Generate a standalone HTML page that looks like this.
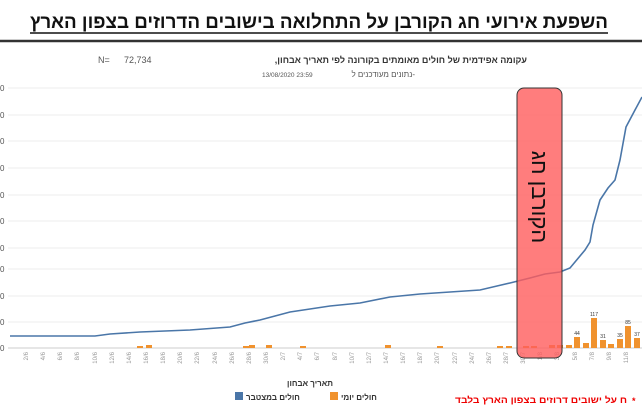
<!DOCTYPE html>
<html><head><meta charset="utf-8"><style>
body{margin:0;width:642px;height:410px;overflow:hidden;background:#fff;font-family:"Liberation Sans",sans-serif;}
</style></head><body>
<svg width="642" height="410" viewBox="0 0 642 410" xmlns="http://www.w3.org/2000/svg" font-family="Liberation Sans, sans-serif">
<rect width="642" height="410" fill="#fff"/>
<text x="30" y="28" font-size="19" font-weight="bold" fill="#111" textLength="578" lengthAdjust="spacingAndGlyphs">השפעת אירועי חג הקורבן על התחלואה בישובים הדרוזים בצפון הארץ</text>
<line x1="30" y1="33" x2="608" y2="33" stroke="#111" stroke-width="1.5"/>
<line x1="0" y1="41" x2="642" y2="41" stroke="#333" stroke-width="2.5"/>
<text x="98" y="63" font-size="9" fill="#555">N=</text>
<text x="124" y="63" font-size="9" fill="#555">72,734</text>
<text x="527" y="63" text-anchor="end" font-size="9" font-weight="bold" fill="#333">,עקומה אפידמית של חולים מאומתים בקורונה לפי תאריך אבחון</text>
<text x="262" y="77" font-size="6.5" fill="#555">13/08/2020 23:59</text>
<text x="415" y="77" text-anchor="end" font-size="8" fill="#555">נתונים מעודכנים ל-</text>
<g stroke="#eee" stroke-width="1">
<line x1="8" y1="88" x2="642" y2="88"/><line x1="8" y1="115" x2="642" y2="115"/><line x1="8" y1="141" x2="642" y2="141"/><line x1="8" y1="168" x2="642" y2="168"/><line x1="8" y1="195" x2="642" y2="195"/><line x1="8" y1="221" x2="642" y2="221"/><line x1="8" y1="248" x2="642" y2="248"/><line x1="8" y1="269" x2="642" y2="269"/><line x1="8" y1="296" x2="642" y2="296"/><line x1="8" y1="322" x2="642" y2="322"/>
</g>
<line x1="8" y1="348" x2="642" y2="348" stroke="#ccc"/>
<g font-size="8" fill="#555"><text x="0" y="91">0</text><text x="0" y="118">0</text><text x="0" y="144">0</text><text x="0" y="171">0</text><text x="0" y="198">0</text><text x="0" y="224">0</text><text x="0" y="251">0</text><text x="0" y="272">0</text><text x="0" y="299">0</text><text x="0" y="325">0</text><text x="0" y="351">0</text></g>
<g fill="#f0922e">
<rect x="137" y="346" width="6" height="2"/><rect x="146" y="345" width="6" height="3"/><rect x="243" y="346" width="6" height="2"/><rect x="249" y="345" width="6" height="3"/><rect x="266" y="345" width="6" height="3"/><rect x="300" y="346" width="6" height="2"/><rect x="385" y="345" width="6" height="3"/><rect x="437" y="346" width="6" height="2"/><rect x="497" y="346" width="6" height="2"/><rect x="506" y="346" width="6" height="2"/>
<rect x="523" y="346" width="6" height="2"/><rect x="531" y="346" width="6" height="2"/><rect x="549" y="345" width="6" height="3"/><rect x="557" y="345" width="6" height="3"/>
<rect x="566" y="345" width="6" height="3"/><rect x="574" y="337" width="6" height="11"/><rect x="583" y="343" width="6" height="5"/><rect x="591" y="318" width="6" height="30"/><rect x="600" y="340" width="6" height="8"/><rect x="608" y="344" width="6" height="4"/><rect x="617" y="339" width="6" height="9"/><rect x="625" y="326" width="6" height="22"/><rect x="634" y="338" width="6" height="10"/>
</g>
<g font-size="5" fill="#333" text-anchor="middle"><text x="577" y="335">44</text><text x="594" y="316">117</text><text x="628" y="324">85</text><text x="620" y="337">35</text><text x="603" y="338">31</text><text x="637" y="336">37</text></g>
<polyline fill="none" stroke="#4a76a8" stroke-width="1.6" points="10,336 95,336 110,334 140,332 190,330 230,327 245,323 260,320 275,316 290,312 330,306 360,303 390,297 420,294 450,292 480,290 497,286 510,283 530,278 545,274 560,272 570,268 575,262 585,250 590,242 593,225 600,200 608,188 615,180 620,160 626,127 635,110 642,97"/>
<g font-size="6" fill="#999" text-anchor="end">
<text transform="translate(28,352) rotate(-90)">2/6</text><text transform="translate(45,352) rotate(-90)">4/6</text><text transform="translate(62,352) rotate(-90)">6/6</text><text transform="translate(79,352) rotate(-90)">8/6</text><text transform="translate(97,352) rotate(-90)">10/6</text><text transform="translate(114,352) rotate(-90)">12/6</text><text transform="translate(131,352) rotate(-90)">14/6</text><text transform="translate(148,352) rotate(-90)">16/6</text><text transform="translate(165,352) rotate(-90)">18/6</text><text transform="translate(182,352) rotate(-90)">20/6</text><text transform="translate(199,352) rotate(-90)">22/6</text><text transform="translate(217,352) rotate(-90)">24/6</text><text transform="translate(234,352) rotate(-90)">26/6</text><text transform="translate(251,352) rotate(-90)">28/6</text><text transform="translate(268,352) rotate(-90)">30/6</text><text transform="translate(285,352) rotate(-90)">2/7</text><text transform="translate(302,352) rotate(-90)">4/7</text><text transform="translate(319,352) rotate(-90)">6/7</text><text transform="translate(337,352) rotate(-90)">8/7</text><text transform="translate(354,352) rotate(-90)">10/7</text><text transform="translate(371,352) rotate(-90)">12/7</text><text transform="translate(388,352) rotate(-90)">14/7</text><text transform="translate(405,352) rotate(-90)">16/7</text><text transform="translate(422,352) rotate(-90)">18/7</text><text transform="translate(439,352) rotate(-90)">20/7</text><text transform="translate(457,352) rotate(-90)">22/7</text><text transform="translate(474,352) rotate(-90)">24/7</text><text transform="translate(491,352) rotate(-90)">26/7</text><text transform="translate(508,352) rotate(-90)">28/7</text><text transform="translate(525,352) rotate(-90)">30/7</text><text transform="translate(542,352) rotate(-90)">1/8</text><text transform="translate(559,352) rotate(-90)">3/8</text><text transform="translate(577,352) rotate(-90)">5/8</text><text transform="translate(594,352) rotate(-90)">7/8</text><text transform="translate(611,352) rotate(-90)">9/8</text><text transform="translate(628,352) rotate(-90)">11/8</text>
</g>
<rect x="517" y="88" width="45" height="270" rx="7" fill="#ff5c5c" fill-opacity="0.8" stroke="#333" stroke-width="1"/>
<text transform="translate(532,197) rotate(90)" text-anchor="middle" font-size="22" fill="#111">הקורבן חג</text>
<text x="310" y="386" text-anchor="middle" font-size="8" font-weight="bold" fill="#333">תאריך אבחון</text>
<rect x="235" y="392" width="8" height="8" fill="#4a76a8"/>
<text x="246" y="400" font-size="8" font-weight="bold" fill="#333">חולים במצטבר</text>
<rect x="330" y="392" width="8" height="8" fill="#f0922e"/>
<text x="341" y="400" font-size="8" font-weight="bold" fill="#333">חולים יומי</text>
<text x="455" y="403" font-size="9" font-weight="bold" fill="#e00" textLength="172" lengthAdjust="spacingAndGlyphs">ח על ישובים דרוזים בצפון הארץ בלבד</text>
<text x="632" y="404" font-size="9" font-weight="bold" fill="#e00">*</text>
</svg>
</body></html>
